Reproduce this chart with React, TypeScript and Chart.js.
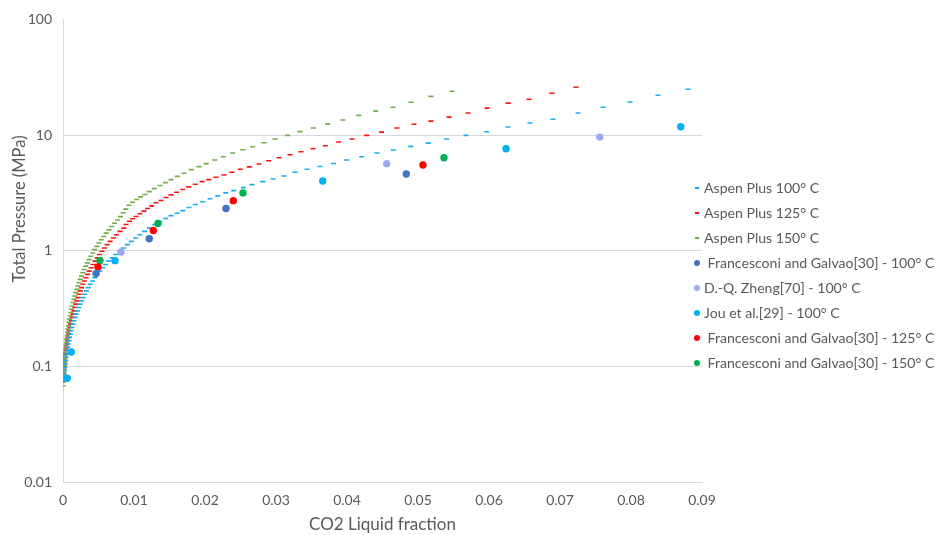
import { useEffect, useRef } from "react";
import { Chart, registerables } from "chart.js";

Chart.register(...registerables);

// Axis ticks
const xTicks = [0, 0.01, 0.02, 0.03, 0.04, 0.05, 0.06, 0.07, 0.08, 0.09];
const xTickLabels = ["0", "0.01", "0.02", "0.03", "0.04", "0.05", "0.06", "0.07", "0.08", "0.09"];
const yTicks = [0.01, 0.1, 1, 10, 100];
const yTickLabels = ["0.01", "0.1", "1", "10", "100"];

const xTitle = "CO2 Liquid fraction";
const yTitle = "Total Pressure (MPa)";

const seriesNames = [
  "Aspen Plus 100° C",
  "Aspen Plus 125° C",
  "Aspen Plus 150° C",
  " Francesconi and Galvao[30] - 100° C",
  "D.-Q. Zheng[70] - 100° C",
  "Jou et al.[29] - 100° C",
  " Francesconi and Galvao[30] - 125° C",
  " Francesconi and Galvao[30] - 150° C",
];
const seriesColors = ["#16AEEC", "#FF1010", "#70AD47", "#4472C4", "#9AA8F6", "#00B0F0", "#FF0000", "#00B050"];

// Aspen Plus model curves: [CO2 liquid fraction, total pressure MPa]
const aspen100: [number, number][] = [
  [0.00004, 0.075], [0.00009, 0.08], [0.00014, 0.086], [0.00019, 0.092], [0.00024, 0.098],
  [0.0003, 0.105], [0.00037, 0.112], [0.00043, 0.12], [0.0005, 0.128], [0.00058, 0.137],
  [0.00066, 0.146], [0.00075, 0.156], [0.00084, 0.167], [0.00094, 0.178], [0.00104, 0.19],
  [0.00116, 0.203], [0.00128, 0.217], [0.00141, 0.232], [0.00155, 0.248], [0.0017, 0.265],
  [0.00185, 0.283], [0.00202, 0.302], [0.0022, 0.323], [0.00239, 0.345], [0.00259, 0.368],
  [0.00281, 0.393], [0.00304, 0.42], [0.0033, 0.449], [0.00356, 0.479], [0.00384, 0.512],
  [0.00415, 0.547], [0.00447, 0.584], [0.00482, 0.624], [0.00518, 0.666], [0.00558, 0.712],
  [0.006, 0.76], [0.00644, 0.812], [0.00693, 0.867], [0.00744, 0.926], [0.00799, 0.989],
  [0.00852, 1.056], [0.00907, 1.128], [0.00963, 1.205], [0.01021, 1.287], [0.01083, 1.374],
  [0.01148, 1.468], [0.01218, 1.568], [0.01293, 1.68], [0.01366, 1.79], [0.01446, 1.9],
  [0.01521, 2.01], [0.01606, 2.11], [0.01686, 2.22], [0.01775, 2.36], [0.01863, 2.51],
  [0.01968, 2.65], [0.0207, 2.81], [0.02179, 2.98], [0.02292, 3.16], [0.02404, 3.31],
  [0.0254, 3.51], [0.02662, 3.73], [0.02813, 3.96], [0.02958, 4.17], [0.03113, 4.43],
  [0.03268, 4.77], [0.03437, 5.06], [0.0362, 5.35], [0.0381, 5.68], [0.03996, 6.09],
  [0.04207, 6.5], [0.04423, 6.99], [0.04652, 7.42], [0.04897, 7.98], [0.05145, 8.52],
  [0.05404, 9.23], [0.05676, 9.94], [0.05968, 10.68], [0.06268, 11.73], [0.06577, 12.7],
  [0.06901, 13.7], [0.07254, 15.5], [0.07606, 17.4], [0.07986, 19.3], [0.0838, 22.1],
  [0.08803, 24.9],
];

const aspen125: [number, number][] = [
  [0.00003, 0.075], [0.00007, 0.08], [0.00011, 0.086], [0.00015, 0.092], [0.00019, 0.098],
  [0.00023, 0.105], [0.00028, 0.112], [0.00033, 0.12], [0.00039, 0.128], [0.00045, 0.137],
  [0.00051, 0.146], [0.00057, 0.156], [0.00065, 0.167], [0.00072, 0.178], [0.0008, 0.19],
  [0.00089, 0.203], [0.00098, 0.217], [0.00108, 0.232], [0.00119, 0.248], [0.0013, 0.265],
  [0.00142, 0.283], [0.00154, 0.302], [0.00167, 0.323], [0.00181, 0.345], [0.00195, 0.368],
  [0.00211, 0.393], [0.00228, 0.42], [0.00245, 0.449], [0.00263, 0.479], [0.00282, 0.512],
  [0.00302, 0.547], [0.00323, 0.584], [0.00346, 0.624], [0.0037, 0.666], [0.00396, 0.712],
  [0.00423, 0.76], [0.00452, 0.812], [0.00483, 0.867], [0.00513, 0.926], [0.00547, 0.989],
  [0.00584, 1.056], [0.00622, 1.128], [0.00664, 1.205], [0.00708, 1.287], [0.00754, 1.374],
  [0.00803, 1.468], [0.00856, 1.568], [0.00887, 1.686], [0.00937, 1.795], [0.00982, 1.887],
  [0.01028, 1.976], [0.01085, 2.085], [0.01141, 2.198], [0.0119, 2.316], [0.01249, 2.443],
  [0.0131, 2.594], [0.0138, 2.716], [0.01451, 2.88], [0.01521, 3.04], [0.01601, 3.2],
  [0.01686, 3.38], [0.0177, 3.56], [0.01863, 3.76], [0.01958, 3.96], [0.02052, 4.12],
  [0.02155, 4.31], [0.02268, 4.52], [0.0238, 4.77], [0.02497, 5.06], [0.02624, 5.31],
  [0.02761, 5.62], [0.02897, 6.0], [0.03042, 6.37], [0.03197, 6.76], [0.03352, 7.18],
  [0.03521, 7.62], [0.03694, 8.09], [0.03883, 8.71], [0.0407, 9.23], [0.04277, 9.94],
  [0.04486, 10.6], [0.04704, 11.5], [0.04944, 12.4], [0.05183, 13.2], [0.05437, 14.3],
  [0.05704, 15.5], [0.05972, 17.1], [0.0627, 18.9], [0.06563, 20.4], [0.06887, 23.0],
  [0.07225, 25.9],
];

const aspen150: [number, number][] = [
  [0.00001, 0.068], [0.00003, 0.073], [0.00006, 0.078], [0.00008, 0.083], [0.00011, 0.089],
  [0.00014, 0.095], [0.00017, 0.101], [0.0002, 0.108], [0.00024, 0.116], [0.00028, 0.124],
  [0.00032, 0.132], [0.00037, 0.141], [0.00041, 0.151], [0.00046, 0.161], [0.00052, 0.172],
  [0.00058, 0.184], [0.00064, 0.197], [0.0007, 0.21], [0.00077, 0.224], [0.00085, 0.24],
  [0.00093, 0.256], [0.00101, 0.274], [0.0011, 0.292], [0.0012, 0.312], [0.0013, 0.333],
  [0.00141, 0.356], [0.00153, 0.38], [0.00166, 0.406], [0.00179, 0.434], [0.00194, 0.463],
  [0.00209, 0.495], [0.00225, 0.529], [0.00242, 0.565], [0.0026, 0.603], [0.00279, 0.644],
  [0.00299, 0.688], [0.0032, 0.735], [0.00343, 0.785], [0.00367, 0.838], [0.00391, 0.895],
  [0.00418, 0.956], [0.00446, 1.021], [0.00476, 1.09], [0.00507, 1.164], [0.00539, 1.243],
  [0.00573, 1.328], [0.00609, 1.418], [0.00647, 1.514], [0.00686, 1.617], [0.00726, 1.727],
  [0.00768, 1.845], [0.0081, 1.97], [0.00848, 2.13], [0.00885, 2.29], [0.00928, 2.47],
  [0.00979, 2.62], [0.01038, 2.77], [0.01094, 2.92], [0.01155, 3.06], [0.01215, 3.24],
  [0.01286, 3.44], [0.01366, 3.66], [0.01441, 3.88], [0.01521, 4.12], [0.0161, 4.39],
  [0.01704, 4.67], [0.01807, 5.02], [0.01915, 5.33], [0.02018, 5.66], [0.02137, 6.09],
  [0.02258, 6.5], [0.0239, 6.99], [0.02531, 7.47], [0.02672, 7.93], [0.02831, 8.58],
  [0.02986, 9.23], [0.03165, 9.94], [0.03338, 10.7], [0.03525, 11.5], [0.03728, 12.5],
  [0.03944, 13.5], [0.04165, 14.8], [0.04404, 16.1], [0.04648, 17.4], [0.04901, 19.2],
  [0.05183, 21.6], [0.05479, 23.9],
];

// Experimental measurements: [CO2 liquid fraction, total pressure MPa]
const francesconi100: [number, number][] = [
  [0.00465, 0.634], [0.01215, 1.27], [0.02296, 2.32], [0.04835, 4.6],
];
const zheng100: [number, number][] = [
  [0.00817, 0.974], [0.04559, 5.66], [0.0756, 9.6],
];
const jou100: [number, number][] = [
  [0.0006, 0.079], [0.00117, 0.133], [0.00732, 0.82], [0.03658, 4.0], [0.0624, 7.62], [0.087, 11.8],
];
const francesconi125: [number, number][] = [
  [0.00493, 0.724], [0.01272, 1.497], [0.02399, 2.71], [0.0507, 5.51],
];
const francesconi150: [number, number][] = [
  [0.00521, 0.824], [0.01338, 1.72], [0.02535, 3.16], [0.05366, 6.36],
];

const curveSeries = [aspen100, aspen125, aspen150];
const markerSeries = [francesconi100, zheng100, jou100, francesconi125, francesconi150];

const FONT = "Lato, 'Open Sans', sans-serif";
const TEXT = "#595959";
const GRID = "#D9D9D9";

const toXY = (pts: [number, number][]) => pts.map(([x, y]) => ({ x, y }));

// Rotated y-axis title, centred a little above the middle of the axis
const yTitlePlugin = {
  id: "yTitle",
  afterDraw(chart: any) {
    const ctx = chart.ctx;
    ctx.save();
    ctx.translate(20, 209);
    ctx.rotate(-Math.PI / 2);
    ctx.fillStyle = TEXT;
    ctx.font = `16.5px ${FONT}`;
    ctx.textAlign = "center";
    ctx.textBaseline = "middle";
    ctx.fillText(yTitle, 0, 0);
    ctx.restore();
  },
};

export default function App() {
  const canvasRef = useRef<HTMLCanvasElement | null>(null);

  useEffect(() => {
    if (!canvasRef.current) return;

    const curveSets = curveSeries.map((pts, i) => ({
      label: seriesNames[i],
      data: toXY(pts),
      showLine: false,
      pointStyle: "line",
      pointRadius: 2.5,
      pointHoverRadius: 2.5,
      pointBorderWidth: 1.6,
      borderColor: seriesColors[i],
      backgroundColor: seriesColors[i],
      order: 2,
    }));
    const markerSets = markerSeries.map((pts, j) => ({
      label: seriesNames[j + 3],
      data: toXY(pts),
      showLine: false,
      pointStyle: "circle",
      pointRadius: 3.7,
      pointHoverRadius: 3.7,
      pointBorderWidth: 0,
      borderColor: seriesColors[j + 3],
      backgroundColor: seriesColors[j + 3],
      order: 1,
    }));

    const chart = new Chart(canvasRef.current, {
      type: "scatter",
      data: { datasets: [...curveSets, ...markerSets] as any },
      options: {
        animation: false,
        responsive: false,
        devicePixelRatio: 1,
        layout: { padding: { top: 19, right: 238, left: 0, bottom: 0 } },
        plugins: { legend: { display: false }, tooltip: { enabled: false } },
        scales: {
          x: {
            type: "linear",
            min: 0,
            max: 0.09,
            afterBuildTicks: (s: any) => {
              s.ticks = xTicks.map((v) => ({ value: v }));
            },
            afterFit: (s: any) => {
              s.height = 53;
            },
            grid: { display: false, drawTicks: false },
            border: { display: true, color: GRID, width: 1 },
            ticks: {
              callback: (_v: any, i: number) => xTickLabels[i],
              color: TEXT,
              font: { family: FONT, size: 14 },
              padding: 10,
              maxRotation: 0,
              autoSkip: false,
            },
            title: {
              display: true,
              text: xTitle,
              color: TEXT,
              font: { family: FONT, size: 17 },
              padding: { top: 0, bottom: 0 },
            },
          },
          y: {
            type: "logarithmic",
            min: 0.01,
            max: 100,
            afterBuildTicks: (s: any) => {
              s.ticks = yTicks.map((v) => ({ value: v }));
            },
            afterFit: (s: any) => {
              s.width = 63;
            },
            grid: {
              drawTicks: false,
              color: (c: any) => (c.tick && c.tick.value === 100 ? "rgba(0,0,0,0)" : GRID),
            },
            border: { display: true, color: GRID, width: 1 },
            ticks: {
              callback: (_v: any, i: number) => yTickLabels[i],
              color: TEXT,
              font: { family: FONT, size: 14 },
              padding: 11,
              autoSkip: false,
            },
          },
        },
      },
      plugins: [yTitlePlugin],
    });

    return () => chart.destroy();
  }, []);

  return (
    <div style={{ position: "absolute", left: 0, top: 0, width: 940, height: 535, background: "#fff" }}>
      <canvas ref={canvasRef} width={940} height={535} style={{ display: "block" }} />
      <div
        style={{
          position: "absolute",
          left: 690,
          top: 175,
          fontFamily: FONT,
          fontSize: 14.1,
          color: TEXT,
        }}
      >
        {seriesNames.map((name, i) => (
          <div key={name} style={{ height: 25, display: "flex", alignItems: "center", whiteSpace: "pre" }}>
            <span style={{ width: 14, display: "inline-flex", justifyContent: "center", alignItems: "center" }}>
              {i < 3 ? (
                <span style={{ width: 4, height: 2, background: seriesColors[i], display: "block" }} />
              ) : (
                <span
                  style={{ width: 6, height: 6, borderRadius: "50%", background: seriesColors[i], display: "block" }}
                />
              )}
            </span>
            <span>{name}</span>
          </div>
        ))}
      </div>
    </div>
  );
}
